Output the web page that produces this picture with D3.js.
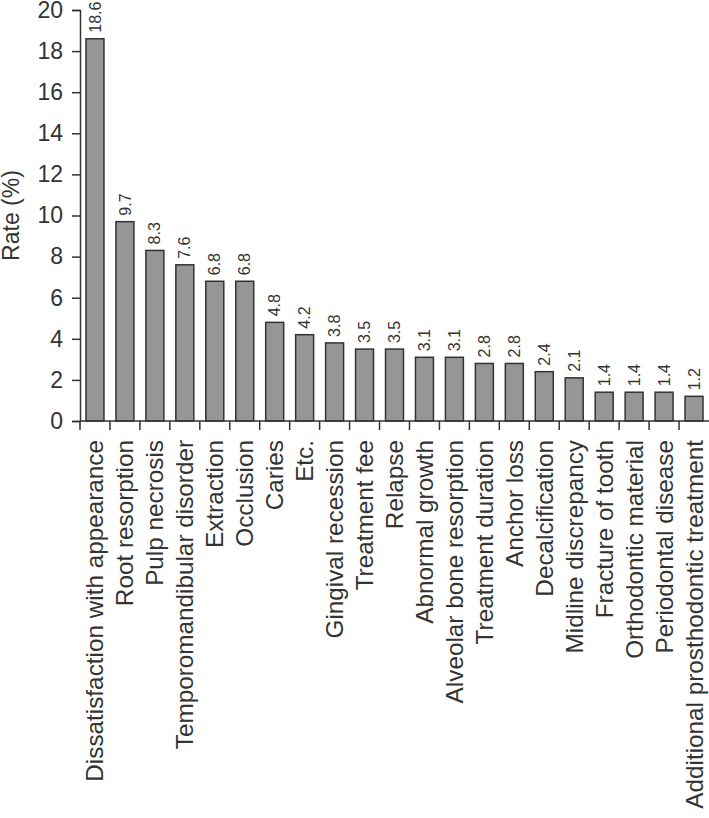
<!DOCTYPE html>
<html>
<head>
<meta charset="utf-8">
<script src="https://cdn.jsdelivr.net/npm/d3@7"></script>
<style>
  body { margin: 0; background: #fff; }
  text { font-family: "Liberation Sans", Arial, sans-serif; fill: #333; }
</style>
</head>
<body>
<svg width="709" height="818"></svg>
<script>
var categories = ["Dissatisfaction with appearance", "Root resorption", "Pulp necrosis",
    "Temporomandibular disorder", "Extraction", "Occlusion", "Caries", "Etc.",
    "Gingival recession", "Treatment fee", "Relapse", "Abnormal growth",
    "Alveolar bone resorption", "Treatment duration", "Anchor loss", "Decalcification",
    "Midline discrepancy", "Fracture of tooth", "Orthodontic material",
    "Periodontal disease", "Additional prosthodontic treatment"];
var rates = [18.6, 9.7, 8.3, 7.6, 6.8, 6.8, 4.8, 4.2, 3.8, 3.5, 3.5, 3.1, 3.1, 2.8, 2.8, 2.4, 2.1, 1.4, 1.4, 1.4, 1.2];
var yTicks = [0, 2, 4, 6, 8, 10, 12, 14, 16, 18, 20];

var svg = d3.select("svg");
var plotLeft = 80, plotRight = 709, plotTop = 10, plotBottom = 421;

var x = d3.scaleBand()
    .domain(categories)
    .range([plotLeft, plotRight])
    .paddingInner(0.4)
    .paddingOuter(0.2);

var y = d3.scaleLinear()
    .domain([0, 20])
    .range([plotBottom, plotTop]);

// Y AXIS
var yAxis = svg.append("g")
    .attr("transform", "translate(" + plotLeft + ",0)")
    .call(d3.axisLeft(y).tickValues(yTicks).tickSize(8).tickPadding(9));
yAxis.select(".domain").attr("stroke", "#333").attr("stroke-width", 1.5);
yAxis.selectAll(".tick line").attr("stroke", "#333").attr("stroke-width", 1.5);
yAxis.selectAll(".tick text").attr("font-size", 23).attr("fill", "#333")
    .style("font-family", "Liberation Sans, Arial, sans-serif");

svg.append("text")
    .attr("transform", "translate(19," + ((plotTop + plotBottom) / 2) + ") rotate(-90)")
    .attr("text-anchor", "middle")
    .attr("font-size", 23)
    .text("Rate (%)");

// BARS
svg.selectAll(".bar")
    .data(rates)
    .enter()
    .append("rect")
    .attr("class", "bar")
    .attr("x", function(d, i) { return x(categories[i]); })
    .attr("width", x.bandwidth())
    .attr("y", function(d) { return y(d); })
    .attr("height", function(d) { return plotBottom - y(d); })
    .attr("fill", "#969696")
    .attr("stroke", "#333")
    .attr("stroke-width", 1.5);

// VALUE LABELS
svg.selectAll(".value")
    .data(rates)
    .enter()
    .append("text")
    .attr("class", "value")
    .attr("transform", function(d, i) {
        return "translate(" + (x(categories[i]) + x.bandwidth() / 2) + "," + (y(d) - 6) + ") rotate(-90)";
    })
    .attr("dy", "0.35em")
    .attr("font-size", 16)
    .text(function(d) { return d.toFixed(1); });

// X AXIS
var step = x.step();
var edges = d3.range(categories.length).map(function(i) { return plotLeft + i * step; });
svg.append("line")
    .attr("x1", plotLeft).attr("x2", plotRight)
    .attr("y1", plotBottom).attr("y2", plotBottom)
    .attr("stroke", "#333").attr("stroke-width", 1.5);
svg.selectAll(".xtick")
    .data(edges)
    .enter()
    .append("line")
    .attr("class", "xtick")
    .attr("x1", function(d) { return d; }).attr("x2", function(d) { return d; })
    .attr("y1", plotBottom).attr("y2", plotBottom + 9)
    .attr("stroke", "#333").attr("stroke-width", 1.5);

svg.selectAll(".cat")
    .data(categories)
    .enter()
    .append("text")
    .attr("class", "cat")
    .attr("transform", function(d) {
        return "translate(" + (x(d) + x.bandwidth() / 2) + "," + (plotBottom + 19) + ") rotate(-90)";
    })
    .attr("text-anchor", "end")
    .attr("dy", "0.35em")
    .attr("font-size", 24.3)
    .text(function(d) { return d; });
</script>
</body>
</html>
